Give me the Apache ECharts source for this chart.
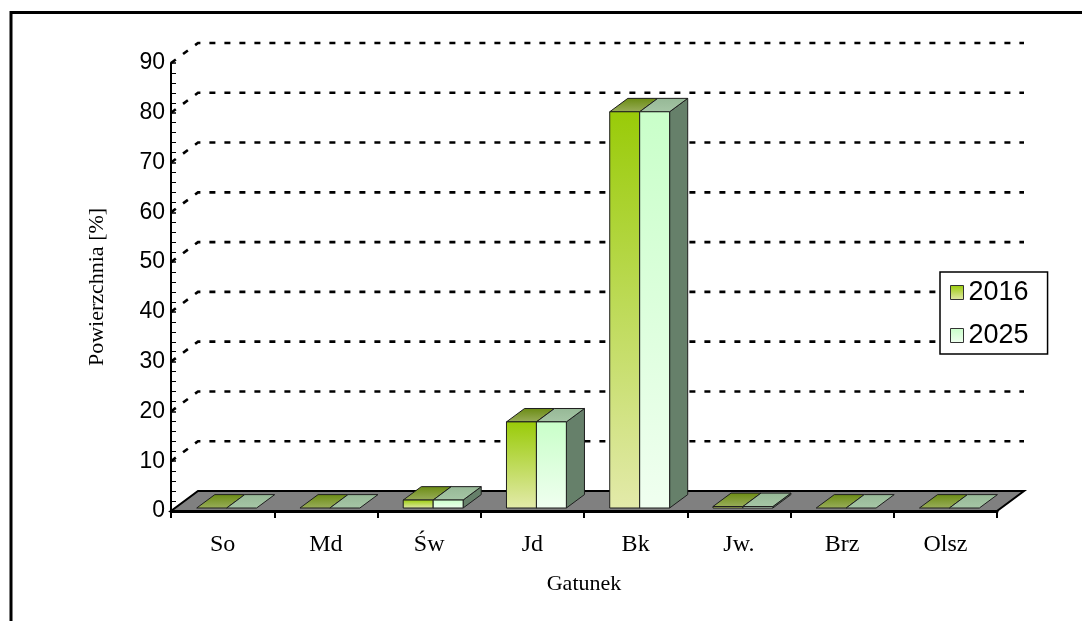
<!DOCTYPE html>
<html>
<head>
<meta charset="utf-8">
<script src="https://cdn.jsdelivr.net/npm/echarts@6/dist/echarts.min.js"></script>
<style>
  html, body { margin: 0; padding: 0; background: #ffffff; }
  #chart { width: 1082px; height: 621px; }
</style>
</head>
<body>
<div id="chart"></div>
<script>
// Species (Gatunek) and share of area [%] for both years
const categories = ['So', 'Md', 'Św', 'Jd', 'Bk', 'Jw.', 'Brz', 'Olsz'];
const values2016 = [0, 0, 1.6, 17.3, 79.6, 0.3, 0, 0];
const values2025 = [0, 0, 1.6, 17.3, 79.6, 0.3, 0, 0];
const seriesNames = ['2016', '2025'];
const gridValues = [10, 20, 30, 40, 50, 60, 70, 80, 90];

// pseudo-3D geometry (pixels / fractions of the floor depth)
const DEPTH = [27, -20];
const BAR_FRONT = 0.15;
const BAR_DEPTH = 0.67;
const BAR_WIDTH = 0.29;
const EDGE = '#1e1e1e';

const G = echarts.graphic.LinearGradient;
const STYLES = [
  {
    front: new G(0, 0, 0, 1, [{ offset: 0, color: '#99cb08' }, { offset: 1, color: '#e3eaaa' }]),
    top: new G(0, 0, 0, 1, [{ offset: 0, color: '#6a8b12' }, { offset: 1, color: '#9aae5c' }]),
    side: '#5f7a26'
  },
  {
    front: new G(0, 0, 0, 1, [{ offset: 0, color: '#c9ffc9' }, { offset: 1, color: '#f0fff0' }]),
    top: new G(0, 0, 0, 1, [{ offset: 0, color: '#96b896' }, { offset: 1, color: '#a6c6a6' }]),
    side: '#66806a'
  }
];

function barRenderer(si) {
  return function (params, api) {
    const ci = api.value(0);
    const v = api.value(1);
    const band = api.size([1, 0])[0];
    const base = api.coord([ci, 0]);
    const top = api.coord([ci, v]);
    const w = band * BAR_WIDTH;
    const ox = DEPTH[0] * BAR_FRONT, oy = DEPTH[1] * BAR_FRONT;
    const dx = DEPTH[0] * BAR_DEPTH, dy = DEPTH[1] * BAR_DEPTH;
    const x0 = base[0] - w + si * w + ox;
    const x1 = x0 + w;
    const yb = base[1] + oy;
    const yt = top[1] + oy;
    const st = STYLES[si];
    const children = [];
    if (yb - yt > 0.3) {
      children.push({
        type: 'polygon',
        shape: { points: [[x1, yt], [x1 + dx, yt + dy], [x1 + dx, yb + dy], [x1, yb]] },
        style: { fill: st.side, stroke: EDGE, lineWidth: 1 }
      });
    }
    children.push({
      type: 'polygon',
      shape: { points: [[x0, yt], [x1, yt], [x1 + dx, yt + dy], [x0 + dx, yt + dy]] },
      style: { fill: st.top, stroke: EDGE, lineWidth: 1 }
    });
    if (yb - yt > 0.3) {
      children.push({
        type: 'rect',
        shape: { x: x0, y: yt, width: w, height: yb - yt },
        style: { fill: st.front, stroke: EDGE, lineWidth: 1 }
      });
    }
    return { type: 'group', children: children };
  };
}

const chart = echarts.init(document.getElementById('chart'), null, { renderer: 'canvas' });

const serifFont = '"Liberation Serif", "Times New Roman", serif';
const sansFont = '"Liberation Sans", Arial, sans-serif';

chart.setOption({
  animation: false,
  backgroundColor: '#ffffff',
  grid: { left: 171, top: 63, width: 826, height: 448, containLabel: false },
  xAxis: {
    type: 'category',
    data: categories,
    z: 10,
    name: 'Gatunek',
    nameLocation: 'middle',
    nameGap: 62,
    nameTextStyle: { fontFamily: serifFont, fontSize: 22, color: '#000' },
    axisLine: { show: true, lineStyle: { color: '#000', width: 3 } },
    axisTick: { show: true, alignWithLabel: false, length: 7, lineStyle: { color: '#000', width: 2 } },
    axisLabel: { fontFamily: serifFont, fontSize: 24, color: '#000', margin: 22 },
    splitLine: { show: false }
  },
  yAxis: {
    type: 'value',
    min: 0,
    max: 90,
    interval: 10,
    z: 10,
    name: 'Powierzchnia [%]',
    nameLocation: 'middle',
    nameGap: 63,
    nameRotate: 90,
    nameTextStyle: { fontFamily: serifFont, fontSize: 22, color: '#000' },
    axisLine: { show: true, lineStyle: { color: '#000', width: 2 } },
    axisTick: { show: true, inside: true, length: 5, lineStyle: { color: '#000', width: 1.5 } },
    minorTick: { show: true, splitNumber: 5, length: 5, lineStyle: { color: '#000', width: 1 } },
    axisLabel: { fontFamily: sansFont, fontSize: 23, color: '#000', margin: 6 },
    splitLine: { show: false }
  },
  legend: {
    orient: 'vertical',
    left: 940,
    top: 272,
    padding: [7, 19, 5, 10],
    itemWidth: 13,
    itemHeight: 14,
    itemGap: 16,
    backgroundColor: '#ffffff',
    borderColor: '#000',
    borderWidth: 1.5,
    icon: 'rect',
    selectedMode: false,
    textStyle: { fontFamily: sansFont, fontSize: 27, color: '#000', lineHeight: 23 },
    data: [
      { name: seriesNames[0], itemStyle: { color: STYLES[0].front, borderColor: '#333', borderWidth: 1 } },
      { name: seriesNames[1], itemStyle: { color: STYLES[1].front, borderColor: '#333', borderWidth: 1 } }
    ]
  },
  graphic: [
    { type: 'polyline', shape: { points: [[11, 621], [11, 12.5], [1082, 12.5]] },
      style: { stroke: '#000', lineWidth: 3, fill: null }, z: 20 }
  ],
  series: [
    {
      // dotted guide lines running from the front axis onto the back wall
      type: 'custom',
      name: 'grid',
      silent: true,
      z: 1,
      data: gridValues.map(v => [0, v]),
      renderItem: function (params, api) {
        const cs = params.coordSys;
        const p = api.coord([0, api.value(1)]);
        const y = p[1];
        return {
          type: 'polyline',
          shape: { points: [[cs.x, y], [cs.x + DEPTH[0], y + DEPTH[1]], [cs.x + cs.width + DEPTH[0], y + DEPTH[1]]] },
          style: { stroke: '#000', lineWidth: 2.6, lineDash: [6, 9], fill: null }
        };
      }
    },
    {
      // floor plane
      type: 'custom',
      name: 'floor',
      silent: true,
      z: 2,
      data: [[0, 0]],
      renderItem: function (params, api) {
        const cs = params.coordSys;
        const y = api.coord([0, 0])[1];
        const L = cs.x, R = cs.x + cs.width;
        return {
          type: 'polygon',
          shape: { points: [[L, y], [R, y], [R + DEPTH[0], y + DEPTH[1]], [L + DEPTH[0], y + DEPTH[1]]] },
          style: { fill: '#808080', stroke: '#000', lineWidth: 2 }
        };
      }
    },
    {
      type: 'custom',
      name: seriesNames[0],
      z: 3,
      itemStyle: { color: '#99cb08' },
      data: values2016.map((v, i) => [i, v]),
      renderItem: barRenderer(0)
    },
    {
      type: 'custom',
      name: seriesNames[1],
      z: 3,
      itemStyle: { color: '#c9ffc9' },
      data: values2025.map((v, i) => [i, v]),
      renderItem: barRenderer(1)
    }
  ]
});
</script>
</body>
</html>
